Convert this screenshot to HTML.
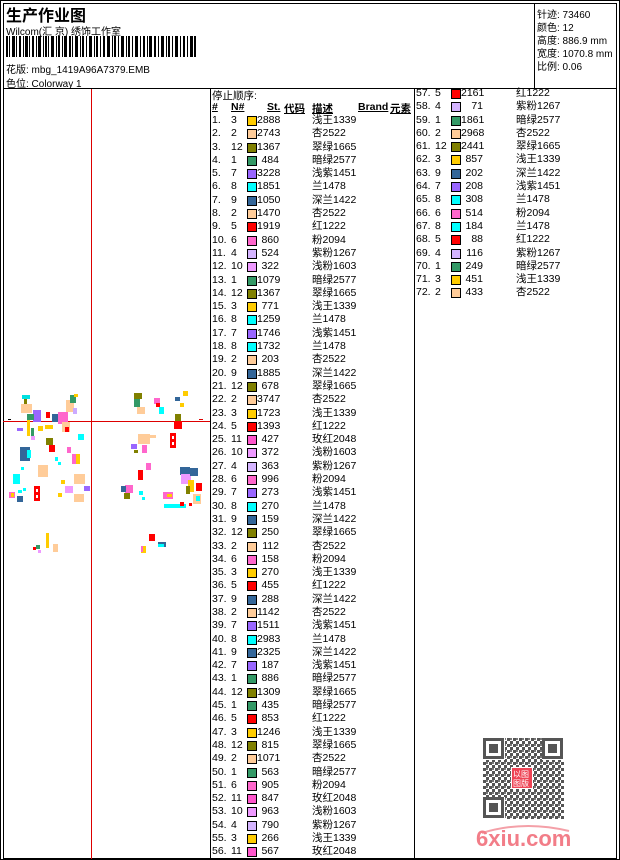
<!DOCTYPE html>
<html><head><meta charset="utf-8"><style>
*{margin:0;padding:0;box-sizing:border-box}
body{width:620px;height:860px;background:#fff;position:relative;overflow:hidden;font-family:"Liberation Sans","Noto Sans CJK SC",sans-serif;font-size:10px;color:#000}
.a{position:absolute;white-space:nowrap}
.col{position:absolute}
.r{position:relative;height:13.3px;line-height:13.3px;font-size:10.5px}
.r span{position:absolute;top:0}
.n{left:0}.c{left:19px}
.s{left:35px;top:2px!important;width:10px;height:10px;border:1px solid #000}
.st{left:45px;width:22px;text-align:right}
.d{left:100px}
.k1{background:#339966}.k2{background:#ffcc99}.k3{background:#ffcc00}.k4{background:#d4b4ff}.k5{background:#ff0000}.k6{background:#ff66cc}.k7{background:#9966ff}.k8{background:#00ffff}.k9{background:#336699}.k10{background:#ee99ff}.k11{background:#ff55cc}.k12{background:#808000}
</style></head><body>
<div class="a" style="left:0;top:0;width:620px;height:860px;border:1px solid #000"></div>
<div class="a" style="left:3px;top:3px;width:614px;height:856px;border:1px solid #000"></div>
<div class="a" style="left:3px;top:88px;width:614px;height:1px;background:#000"></div>
<div class="a" style="left:534px;top:3px;width:1px;height:85px;background:#000"></div>
<div class="a" style="left:210px;top:88px;width:1px;height:771px;background:#000"></div>
<div class="a" style="left:414px;top:88px;width:1px;height:771px;background:#000"></div>

<div class="a" style="left:6px;top:2px;font-size:16px;font-weight:bold">生产作业图</div>
<div class="a" style="left:6px;top:23px;font-size:10px">Wilcom(汇 京) 绣饰工作室</div>
<svg class="a" style="left:6px;top:36px" width="190" height="21">
<g fill="#000">
<rect x="0" y="0" width="2" height="21"/><rect x="3" y="0" width="1" height="21"/><rect x="6" y="0" width="3" height="21"/><rect x="10" y="0" width="1" height="21"/><rect x="13" y="0" width="2" height="21"/><rect x="17" y="0" width="1" height="21"/><rect x="19" y="0" width="3" height="21"/><rect x="23" y="0" width="1" height="21"/><rect x="26" y="0" width="2" height="21"/><rect x="30" y="0" width="1" height="21"/><rect x="32" y="0" width="3" height="21"/><rect x="37" y="0" width="1" height="21"/><rect x="39" y="0" width="2" height="21"/><rect x="42" y="0" width="1" height="21"/><rect x="45" y="0" width="3" height="21"/><rect x="50" y="0" width="1" height="21"/><rect x="52" y="0" width="2" height="21"/><rect x="56" y="0" width="1" height="21"/><rect x="58" y="0" width="3" height="21"/><rect x="63" y="0" width="2" height="21"/><rect x="66" y="0" width="1" height="21"/><rect x="69" y="0" width="3" height="21"/><rect x="74" y="0" width="1" height="21"/><rect x="76" y="0" width="2" height="21"/><rect x="80" y="0" width="1" height="21"/><rect x="83" y="0" width="3" height="21"/><rect x="88" y="0" width="1" height="21"/><rect x="90" y="0" width="2" height="21"/><rect x="94" y="0" width="1" height="21"/><rect x="97" y="0" width="2" height="21"/><rect x="101" y="0" width="3" height="21"/><rect x="106" y="0" width="1" height="21"/><rect x="108" y="0" width="2" height="21"/><rect x="112" y="0" width="1" height="21"/><rect x="115" y="0" width="3" height="21"/><rect x="120" y="0" width="1" height="21"/><rect x="122" y="0" width="2" height="21"/><rect x="126" y="0" width="1" height="21"/><rect x="129" y="0" width="3" height="21"/><rect x="134" y="0" width="1" height="21"/><rect x="137" y="0" width="2" height="21"/><rect x="141" y="0" width="1" height="21"/><rect x="143" y="0" width="3" height="21"/><rect x="148" y="0" width="2" height="21"/><rect x="152" y="0" width="1" height="21"/><rect x="155" y="0" width="3" height="21"/><rect x="160" y="0" width="1" height="21"/><rect x="162" y="0" width="2" height="21"/><rect x="166" y="0" width="1" height="21"/><rect x="169" y="0" width="3" height="21"/><rect x="174" y="0" width="1" height="21"/><rect x="177" y="0" width="2" height="21"/><rect x="181" y="0" width="1" height="21"/><rect x="184" y="0" width="3" height="21"/><rect x="188" y="0" width="2" height="21"/>
</g></svg>
<div class="a" style="left:6px;top:61px">花版: mbg_1419A96A7379.EMB</div>
<div class="a" style="left:6px;top:75px">色位: Colorway 1</div>

<div class="a" style="left:537px;top:6px">针迹: 73460</div>
<div class="a" style="left:537px;top:19px">颜色: 12</div>
<div class="a" style="left:537px;top:32px">高度: 886.9 mm</div>
<div class="a" style="left:537px;top:45px">宽度: 1070.8 mm</div>
<div class="a" style="left:537px;top:58px">比例: 0.06</div>

<!-- design pane -->
<div class="a" style="left:91px;top:89px;width:1px;height:770px;background:#d00"></div>
<div class="a" style="left:3px;top:421px;width:207px;height:1px;background:#d00"></div>
<svg class="a" style="left:0;top:370px" width="210" height="200">
<g>
<rect x="8" y="49" width="3" height="1" fill="#000"/><rect x="199" y="49" width="4" height="1" fill="#d00"/>
<rect x="22" y="25" width="8" height="4" fill="#00e0e0"/><rect x="24" y="29" width="3" height="5" fill="#808000"/>
<rect x="21" y="34" width="11" height="9" fill="#ffcc99"/>
<rect x="33" y="40" width="8" height="12" fill="#9966ff"/><rect x="27" y="44" width="7" height="6" fill="#339966"/>
<rect x="27" y="50" width="3" height="16" fill="#ffcc00"/><rect x="31" y="58" width="3" height="8" fill="#339966"/>
<rect x="46" y="42" width="4" height="6" fill="#ff0000"/><rect x="38" y="56" width="5" height="5" fill="#ffcc00"/>
<rect x="17" y="58" width="6" height="3" fill="#9966ff"/><rect x="31" y="66" width="4" height="4" fill="#ee99ff"/>
<rect x="45" y="55" width="8" height="4" fill="#ffcc00"/><rect x="52" y="44" width="6" height="8" fill="#336699"/>
<rect x="58" y="42" width="10" height="12" fill="#ff66cc"/><rect x="62" y="52" width="8" height="10" fill="#ffcc99"/>
<rect x="66" y="30" width="8" height="12" fill="#ffcc99"/><rect x="70" y="25" width="6" height="8" fill="#339966"/>
<rect x="73" y="38" width="4" height="6" fill="#ccaaff"/><rect x="65" y="57" width="4" height="5" fill="#ff0000"/>
<rect x="74" y="24" width="4" height="3" fill="#ffcc00"/><rect x="78" y="64" width="6" height="6" fill="#00ffff"/>
<rect x="46" y="68" width="7" height="7" fill="#808000"/><rect x="49" y="75" width="6" height="7" fill="#ff0000"/>
<rect x="67" y="77" width="4" height="6" fill="#ff66cc"/><rect x="72" y="84" width="7" height="10" fill="#ff66cc"/><rect x="76" y="84" width="4" height="10" fill="#ffcc00"/>
<rect x="20" y="77" width="10" height="14" fill="#336699"/><rect x="27" y="80" width="4" height="8" fill="#00ffff"/>
<rect x="55" y="87" width="3" height="4" fill="#00ffff"/><rect x="58" y="92" width="3" height="3" fill="#00ffff"/>
<rect x="38" y="95" width="10" height="12" fill="#ffcc99"/><rect x="21" y="97" width="3" height="3" fill="#00ffff"/>
<rect x="13" y="104" width="7" height="10" fill="#00ffff"/><rect x="61" y="110" width="4" height="4" fill="#ffcc00"/>
<rect x="74" y="104" width="11" height="10" fill="#ffcc99"/><rect x="65" y="116" width="8" height="7" fill="#ee99ff"/>
<rect x="84" y="116" width="6" height="5" fill="#9966ff"/><rect x="34" y="116" width="6" height="15" fill="#ff0000"/><rect x="36" y="119" width="2" height="3" fill="#fff"/><rect x="36" y="125" width="2" height="3" fill="#fff"/>
<rect x="18" y="120" width="4" height="3" fill="#00ffff"/><rect x="23" y="118" width="3" height="3" fill="#00ffff"/>
<rect x="9" y="122" width="6" height="6" fill="#ff66cc"/><rect x="11" y="123" width="3" height="4" fill="#ffcc00"/>
<rect x="17" y="126" width="6" height="6" fill="#336699"/><rect x="58" y="123" width="4" height="4" fill="#ffcc00"/>
<rect x="74" y="124" width="10" height="8" fill="#ffcc99"/><rect x="46" y="163" width="3" height="15" fill="#ffcc00"/>
<rect x="53" y="174" width="5" height="8" fill="#ffcc99"/><rect x="36" y="175" width="4" height="4" fill="#339966"/><rect x="33" y="177" width="3" height="3" fill="#ff0000"/><rect x="38" y="180" width="3" height="3" fill="#ee99ff"/>
<rect x="134" y="23" width="8" height="6" fill="#808000"/><rect x="134" y="29" width="6" height="8" fill="#339966"/>
<rect x="137" y="37" width="8" height="7" fill="#ffcc99"/><rect x="154" y="28" width="6" height="6" fill="#ff66cc"/><rect x="156" y="33" width="4" height="4" fill="#ff0000"/>
<rect x="159" y="37" width="5" height="7" fill="#00ffff"/><rect x="175" y="27" width="5" height="4" fill="#336699"/>
<rect x="183" y="21" width="5" height="5" fill="#ffcc00"/><rect x="180" y="33" width="4" height="4" fill="#ffcc00"/>
<rect x="175" y="44" width="6" height="8" fill="#808000"/><rect x="174" y="51" width="8" height="8" fill="#ff0000"/>
<rect x="170" y="63" width="6" height="15" fill="#ff0000"/><rect x="172" y="66" width="2" height="3" fill="#fff"/><rect x="172" y="72" width="2" height="3" fill="#fff"/>
<rect x="138" y="64" width="12" height="10" fill="#ffcc99"/><rect x="150" y="65" width="6" height="3" fill="#ffcc99"/>
<rect x="131" y="74" width="6" height="5" fill="#9966ff"/><rect x="134" y="80" width="4" height="3" fill="#808000"/>
<rect x="142" y="75" width="5" height="8" fill="#ff66cc"/><rect x="146" y="93" width="5" height="7" fill="#ff66cc"/>
<rect x="138" y="100" width="5" height="10" fill="#ff0000"/><rect x="180" y="97" width="10" height="8" fill="#336699"/>
<rect x="181" y="104" width="10" height="10" fill="#ee99ff"/><rect x="190" y="98" width="8" height="8" fill="#336699"/>
<rect x="188" y="110" width="6" height="12" fill="#ffcc00"/><rect x="196" y="113" width="6" height="8" fill="#ff0000"/><rect x="186" y="116" width="4" height="8" fill="#808000"/>
<rect x="193" y="124" width="8" height="10" fill="#ffcc99"/><rect x="196" y="126" width="4" height="5" fill="#00ffff"/>
<rect x="125" y="115" width="8" height="8" fill="#ff66cc"/><rect x="121" y="116" width="5" height="6" fill="#336699"/><rect x="124" y="123" width="6" height="6" fill="#808000"/>
<rect x="139" y="121" width="4" height="4" fill="#00ffff"/><rect x="142" y="127" width="3" height="3" fill="#00ffff"/>
<rect x="163" y="122" width="10" height="7" fill="#ff66cc"/><rect x="167" y="124" width="5" height="3" fill="#ffcc00"/>
<rect x="164" y="134" width="22" height="4" fill="#00ffff"/><rect x="180" y="132" width="4" height="4" fill="#ff0000"/><rect x="189" y="133" width="3" height="3" fill="#ff0000"/>
<rect x="149" y="164" width="6" height="7" fill="#ff0000"/><rect x="158" y="172" width="8" height="5" fill="#336699"/><rect x="158" y="174" width="6" height="3" fill="#00ffff"/>
<rect x="141" y="176" width="5" height="7" fill="#ffcc00"/><rect x="141" y="176" width="2" height="6" fill="#ff66cc"/>
</g></svg>

<!-- list column 1 -->
<div class="a" style="left:212px;top:88px;font-size:10.5px">停止顺序:</div>
<div class="a" style="left:212px;top:101px;font-size:10.5px;font-weight:bold;text-decoration:underline">#</div>
<div class="a" style="left:231px;top:101px;font-size:10.5px;font-weight:bold;text-decoration:underline">N#</div>
<div class="a" style="left:267px;top:101px;font-size:10.5px;font-weight:bold;text-decoration:underline">St.</div>
<div class="a" style="left:284px;top:101px;font-size:10.5px;font-weight:bold;text-decoration:underline">代码</div>
<div class="a" style="left:312px;top:101px;font-size:10.5px;font-weight:bold;text-decoration:underline">描述</div>
<div class="a" style="left:358px;top:101px;font-size:10.5px;font-weight:bold;text-decoration:underline">Brand</div>
<div class="a" style="left:390px;top:101px;font-size:10.5px;font-weight:bold;text-decoration:underline">元素</div>

<div class="col" style="left:212px;top:114px;width:198px">
<div class="r"><span class="n">1.</span><span class="c">3</span><span class="s k3"></span><span class="st">2888</span><span class="d">浅王1339</span></div>
<div class="r"><span class="n">2.</span><span class="c">2</span><span class="s k2"></span><span class="st">2743</span><span class="d">杏2522</span></div>
<div class="r"><span class="n">3.</span><span class="c">12</span><span class="s k12"></span><span class="st">1367</span><span class="d">翠绿1665</span></div>
<div class="r"><span class="n">4.</span><span class="c">1</span><span class="s k1"></span><span class="st">484</span><span class="d">暗绿2577</span></div>
<div class="r"><span class="n">5.</span><span class="c">7</span><span class="s k7"></span><span class="st">3228</span><span class="d">浅紫1451</span></div>
<div class="r"><span class="n">6.</span><span class="c">8</span><span class="s k8"></span><span class="st">1851</span><span class="d">兰1478</span></div>
<div class="r"><span class="n">7.</span><span class="c">9</span><span class="s k9"></span><span class="st">1050</span><span class="d">深兰1422</span></div>
<div class="r"><span class="n">8.</span><span class="c">2</span><span class="s k2"></span><span class="st">1470</span><span class="d">杏2522</span></div>
<div class="r"><span class="n">9.</span><span class="c">5</span><span class="s k5"></span><span class="st">1919</span><span class="d">红1222</span></div>
<div class="r"><span class="n">10.</span><span class="c">6</span><span class="s k6"></span><span class="st">860</span><span class="d">粉2094</span></div>
<div class="r"><span class="n">11.</span><span class="c">4</span><span class="s k4"></span><span class="st">524</span><span class="d">紫粉1267</span></div>
<div class="r"><span class="n">12.</span><span class="c">10</span><span class="s k10"></span><span class="st">322</span><span class="d">浅粉1603</span></div>
<div class="r"><span class="n">13.</span><span class="c">1</span><span class="s k1"></span><span class="st">1079</span><span class="d">暗绿2577</span></div>
<div class="r"><span class="n">14.</span><span class="c">12</span><span class="s k12"></span><span class="st">1367</span><span class="d">翠绿1665</span></div>
<div class="r"><span class="n">15.</span><span class="c">3</span><span class="s k3"></span><span class="st">771</span><span class="d">浅王1339</span></div>
<div class="r"><span class="n">16.</span><span class="c">8</span><span class="s k8"></span><span class="st">1259</span><span class="d">兰1478</span></div>
<div class="r"><span class="n">17.</span><span class="c">7</span><span class="s k7"></span><span class="st">1746</span><span class="d">浅紫1451</span></div>
<div class="r"><span class="n">18.</span><span class="c">8</span><span class="s k8"></span><span class="st">1732</span><span class="d">兰1478</span></div>
<div class="r"><span class="n">19.</span><span class="c">2</span><span class="s k2"></span><span class="st">203</span><span class="d">杏2522</span></div>
<div class="r"><span class="n">20.</span><span class="c">9</span><span class="s k9"></span><span class="st">1885</span><span class="d">深兰1422</span></div>
<div class="r"><span class="n">21.</span><span class="c">12</span><span class="s k12"></span><span class="st">678</span><span class="d">翠绿1665</span></div>
<div class="r"><span class="n">22.</span><span class="c">2</span><span class="s k2"></span><span class="st">3747</span><span class="d">杏2522</span></div>
<div class="r"><span class="n">23.</span><span class="c">3</span><span class="s k3"></span><span class="st">1723</span><span class="d">浅王1339</span></div>
<div class="r"><span class="n">24.</span><span class="c">5</span><span class="s k5"></span><span class="st">1393</span><span class="d">红1222</span></div>
<div class="r"><span class="n">25.</span><span class="c">11</span><span class="s k11"></span><span class="st">427</span><span class="d">玫红2048</span></div>
<div class="r"><span class="n">26.</span><span class="c">10</span><span class="s k10"></span><span class="st">372</span><span class="d">浅粉1603</span></div>
<div class="r"><span class="n">27.</span><span class="c">4</span><span class="s k4"></span><span class="st">363</span><span class="d">紫粉1267</span></div>
<div class="r"><span class="n">28.</span><span class="c">6</span><span class="s k6"></span><span class="st">996</span><span class="d">粉2094</span></div>
<div class="r"><span class="n">29.</span><span class="c">7</span><span class="s k7"></span><span class="st">273</span><span class="d">浅紫1451</span></div>
<div class="r"><span class="n">30.</span><span class="c">8</span><span class="s k8"></span><span class="st">270</span><span class="d">兰1478</span></div>
<div class="r"><span class="n">31.</span><span class="c">9</span><span class="s k9"></span><span class="st">159</span><span class="d">深兰1422</span></div>
<div class="r"><span class="n">32.</span><span class="c">12</span><span class="s k12"></span><span class="st">250</span><span class="d">翠绿1665</span></div>
<div class="r"><span class="n">33.</span><span class="c">2</span><span class="s k2"></span><span class="st">112</span><span class="d">杏2522</span></div>
<div class="r"><span class="n">34.</span><span class="c">6</span><span class="s k6"></span><span class="st">158</span><span class="d">粉2094</span></div>
<div class="r"><span class="n">35.</span><span class="c">3</span><span class="s k3"></span><span class="st">270</span><span class="d">浅王1339</span></div>
<div class="r"><span class="n">36.</span><span class="c">5</span><span class="s k5"></span><span class="st">455</span><span class="d">红1222</span></div>
<div class="r"><span class="n">37.</span><span class="c">9</span><span class="s k9"></span><span class="st">288</span><span class="d">深兰1422</span></div>
<div class="r"><span class="n">38.</span><span class="c">2</span><span class="s k2"></span><span class="st">1142</span><span class="d">杏2522</span></div>
<div class="r"><span class="n">39.</span><span class="c">7</span><span class="s k7"></span><span class="st">1511</span><span class="d">浅紫1451</span></div>
<div class="r"><span class="n">40.</span><span class="c">8</span><span class="s k8"></span><span class="st">2983</span><span class="d">兰1478</span></div>
<div class="r"><span class="n">41.</span><span class="c">9</span><span class="s k9"></span><span class="st">2325</span><span class="d">深兰1422</span></div>
<div class="r"><span class="n">42.</span><span class="c">7</span><span class="s k7"></span><span class="st">187</span><span class="d">浅紫1451</span></div>
<div class="r"><span class="n">43.</span><span class="c">1</span><span class="s k1"></span><span class="st">886</span><span class="d">暗绿2577</span></div>
<div class="r"><span class="n">44.</span><span class="c">12</span><span class="s k12"></span><span class="st">1309</span><span class="d">翠绿1665</span></div>
<div class="r"><span class="n">45.</span><span class="c">1</span><span class="s k1"></span><span class="st">435</span><span class="d">暗绿2577</span></div>
<div class="r"><span class="n">46.</span><span class="c">5</span><span class="s k5"></span><span class="st">853</span><span class="d">红1222</span></div>
<div class="r"><span class="n">47.</span><span class="c">3</span><span class="s k3"></span><span class="st">1246</span><span class="d">浅王1339</span></div>
<div class="r"><span class="n">48.</span><span class="c">12</span><span class="s k12"></span><span class="st">815</span><span class="d">翠绿1665</span></div>
<div class="r"><span class="n">49.</span><span class="c">2</span><span class="s k2"></span><span class="st">1071</span><span class="d">杏2522</span></div>
<div class="r"><span class="n">50.</span><span class="c">1</span><span class="s k1"></span><span class="st">563</span><span class="d">暗绿2577</span></div>
<div class="r"><span class="n">51.</span><span class="c">6</span><span class="s k6"></span><span class="st">905</span><span class="d">粉2094</span></div>
<div class="r"><span class="n">52.</span><span class="c">11</span><span class="s k11"></span><span class="st">847</span><span class="d">玫红2048</span></div>
<div class="r"><span class="n">53.</span><span class="c">10</span><span class="s k10"></span><span class="st">963</span><span class="d">浅粉1603</span></div>
<div class="r"><span class="n">54.</span><span class="c">4</span><span class="s k4"></span><span class="st">790</span><span class="d">紫粉1267</span></div>
<div class="r"><span class="n">55.</span><span class="c">3</span><span class="s k3"></span><span class="st">266</span><span class="d">浅王1339</span></div>
<div class="r"><span class="n">56.</span><span class="c">11</span><span class="s k11"></span><span class="st">567</span><span class="d">玫红2048</span></div>
</div>

<div class="col" style="left:416px;top:87px;width:198px">
<div class="r"><span class="n">57.</span><span class="c">5</span><span class="s k5"></span><span class="st">2161</span><span class="d">红1222</span></div>
<div class="r"><span class="n">58.</span><span class="c">4</span><span class="s k4"></span><span class="st">71</span><span class="d">紫粉1267</span></div>
<div class="r"><span class="n">59.</span><span class="c">1</span><span class="s k1"></span><span class="st">1861</span><span class="d">暗绿2577</span></div>
<div class="r"><span class="n">60.</span><span class="c">2</span><span class="s k2"></span><span class="st">2968</span><span class="d">杏2522</span></div>
<div class="r"><span class="n">61.</span><span class="c">12</span><span class="s k12"></span><span class="st">2441</span><span class="d">翠绿1665</span></div>
<div class="r"><span class="n">62.</span><span class="c">3</span><span class="s k3"></span><span class="st">857</span><span class="d">浅王1339</span></div>
<div class="r"><span class="n">63.</span><span class="c">9</span><span class="s k9"></span><span class="st">202</span><span class="d">深兰1422</span></div>
<div class="r"><span class="n">64.</span><span class="c">7</span><span class="s k7"></span><span class="st">208</span><span class="d">浅紫1451</span></div>
<div class="r"><span class="n">65.</span><span class="c">8</span><span class="s k8"></span><span class="st">308</span><span class="d">兰1478</span></div>
<div class="r"><span class="n">66.</span><span class="c">6</span><span class="s k6"></span><span class="st">514</span><span class="d">粉2094</span></div>
<div class="r"><span class="n">67.</span><span class="c">8</span><span class="s k8"></span><span class="st">184</span><span class="d">兰1478</span></div>
<div class="r"><span class="n">68.</span><span class="c">5</span><span class="s k5"></span><span class="st">88</span><span class="d">红1222</span></div>
<div class="r"><span class="n">69.</span><span class="c">4</span><span class="s k4"></span><span class="st">116</span><span class="d">紫粉1267</span></div>
<div class="r"><span class="n">70.</span><span class="c">1</span><span class="s k1"></span><span class="st">249</span><span class="d">暗绿2577</span></div>
<div class="r"><span class="n">71.</span><span class="c">3</span><span class="s k3"></span><span class="st">451</span><span class="d">浅王1339</span></div>
<div class="r"><span class="n">72.</span><span class="c">2</span><span class="s k2"></span><span class="st">433</span><span class="d">杏2522</span></div>
</div>

<!-- QR -->
<svg class="a" style="left:483px;top:738px" width="81" height="81">
<defs><pattern id="p" width="6" height="6" patternUnits="userSpaceOnUse"><rect width="3" height="3" fill="#555"/><rect x="3" y="3" width="3" height="3" fill="#555"/><rect x="3" y="0" width="2" height="2" fill="#777"/></pattern></defs>
<rect width="81" height="81" fill="url(#p)"/>
<g fill="#fff"><rect x="0" y="0" width="22" height="22"/><rect x="59" y="0" width="22" height="22"/><rect x="0" y="59" width="22" height="22"/></g>
<g fill="none" stroke="#555" stroke-width="3"><rect x="1.5" y="1.5" width="18" height="18"/><rect x="60.5" y="1.5" width="18" height="18"/><rect x="1.5" y="60.5" width="18" height="18"/></g>
<g fill="#555"><rect x="6" y="6" width="9" height="9"/><rect x="65" y="6" width="9" height="9"/><rect x="6" y="65" width="9" height="9"/></g>
<rect x="28" y="29" width="22" height="22" fill="#fff"/>
<rect x="29" y="30" width="20" height="20" fill="#ee4455"/>
<text x="30" y="39" font-size="8" fill="#fff" font-family="Noto Sans CJK SC,sans-serif">以图</text>
<text x="30" y="48" font-size="8" fill="#fff" font-family="Noto Sans CJK SC,sans-serif">图版</text>
</svg>
<svg class="a" style="left:474px;top:822px" width="100" height="12"><path d="M8 11 Q50 -2 95 9" stroke="#f4a0a8" stroke-width="2" fill="none"/></svg>
<div class="a" style="left:476px;top:826px;font-size:22px;font-weight:bold;color:#f27d88;letter-spacing:0px">6xiu.com</div>
</body></html>
